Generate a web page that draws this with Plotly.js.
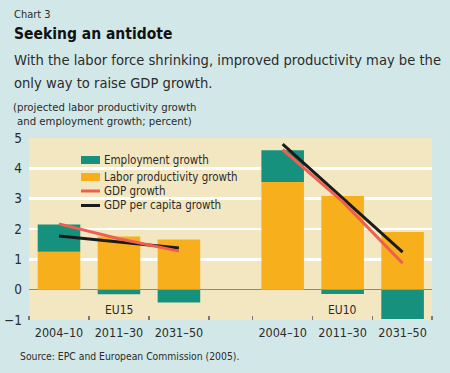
<!DOCTYPE html>
<html>
<head>
<meta charset="utf-8">
<script src="https://cdn.plot.ly/plotly-3.0.1.min.js"></script>
<style>
html,body{margin:0;padding:0;background:#d2e8e8;}
#chart{width:450px;height:373px;}
</style>
</head>
<body>
<div id="chart"></div>
<script>
// ---- data ----
var periods = ['2004–10', '2011–30', '2031–50'];
var groups = ['EU15', 'EU10'];
var eu15Labor = [1.25, 1.75, 1.65];
var eu15Employment = [0.9, -0.15, -0.42];
var eu15Gdp = [2.17, 1.68, 1.27];
var eu15GdpPerCapita = [1.77, 1.57, 1.37];
var eu10Labor = [3.55, 3.09, 1.9];
var eu10Employment = [1.05, -0.14, -0.97];
var eu10Gdp = [4.62, 2.9, 0.87];
var eu10GdpPerCapita = [4.8, 3.02, 1.24];
var yTicks = [-1, 0, 1, 2, 3, 4, 5];
var seriesNames = ['Employment growth', 'Labor productivity growth', 'GDP growth', 'GDP per capita growth'];

// ---- styles / positions ----
var COLORS = {emp: '#16917d', labor: '#f7b01c', gdp: '#ef5f4f', gdppc: '#1b1b1b'};
var eu15X = [0, 1, 2];
var eu10X = [3.73, 4.73, 5.73];
var barX = eu15X.concat(eu10X);
var lineX = eu15X.concat([null], eu10X);
var boundaries = [-0.5, 0.5, 1.5, 2.5, 3.23, 4.23, 5.23, 6.22];

var FONT = '"DejaVu Sans Condensed", "Liberation Sans Narrow", Arial, sans-serif';
var TXT = '#2b2b2b';
var L = 29, R = 432, T = 138, B = 320;
function px(x) { return (x - L) / (R - L); }
function py(y) { return (B - y) / (B - T); }

var traces = [
  {type: 'bar', name: seriesNames[1], x: barX,
   y: eu15Labor.concat(eu10Labor), width: 0.71,
   marker: {color: COLORS.labor}, showlegend: false},
  {type: 'bar', name: seriesNames[0], x: barX,
   y: eu15Employment.concat(eu10Employment), width: 0.71,
   marker: {color: COLORS.emp}, showlegend: false},
  {type: 'scatter', mode: 'lines', name: seriesNames[3], x: lineX,
   y: eu15GdpPerCapita.concat([null], eu10GdpPerCapita),
   line: {color: COLORS.gdppc, width: 3}, connectgaps: false, showlegend: false},
  {type: 'scatter', mode: 'lines', name: seriesNames[2], x: lineX,
   y: eu15Gdp.concat([null], eu10Gdp),
   line: {color: COLORS.gdp, width: 3}, connectgaps: false, showlegend: false}
];

var annotations = [
  {text: 'Chart 3', x: 12, y: 15, size: 11},
  {text: '<b>Seeking an antidote</b>', x: 12, y: 34, size: 15.5, color: '#111'},
  {text: 'With the labor force shrinking, improved productivity may be the', x: 12, y: 59, size: 14.6},
  {text: 'only way to raise GDP growth.', x: 12, y: 82, size: 14.6},
  {text: '(projected labor productivity growth', x: 11, y: 108, size: 11.3},
  {text: 'and employment growth; percent)', x: 15, y: 121, size: 11.3},
  {text: 'Source: EPC and European Commission (2005).', x: 18, y: 356, size: 10.3}
].map(function (a) {
  return {
    text: a.text, showarrow: false, xref: 'paper', yref: 'paper',
    x: px(a.x), y: py(a.y), xanchor: 'left', yanchor: 'middle',
    font: {family: FONT, size: a.size || 12, color: a.color || TXT}
  };
});

// group labels inside plot
groups.forEach(function (g, i) {
  annotations.push({
    text: g, showarrow: false, xref: 'x', yref: 'y',
    x: (i === 0 ? eu15X : eu10X)[1], y: -0.67, xanchor: 'center', yanchor: 'middle',
    font: {family: FONT, size: 12, color: TXT}
  });
});

// legend (drawn with shapes + annotations to match the compact original)
var legendRows = [
  {name: seriesNames[0], kind: 'rect', color: COLORS.emp, y: 160},
  {name: seriesNames[1], kind: 'rect', color: COLORS.labor, y: 177},
  {name: seriesNames[2], kind: 'line', color: COLORS.gdp, y: 191},
  {name: seriesNames[3], kind: 'line', color: COLORS.gdppc, y: 205.5}
];
var shapes = [];
legendRows.forEach(function (r) {
  if (r.kind === 'rect') {
    shapes.push({type: 'rect', xref: 'paper', yref: 'paper',
      x0: px(81), x1: px(100), y0: py(r.y - 4), y1: py(r.y + 4),
      fillcolor: r.color, line: {width: 0}});
  } else {
    shapes.push({type: 'line', xref: 'paper', yref: 'paper',
      x0: px(81), x1: px(100), y0: py(r.y), y1: py(r.y),
      line: {color: r.color, width: 3}});
  }
  annotations.push({text: r.name, showarrow: false, xref: 'paper', yref: 'paper',
    x: px(102), y: py(r.y - 0.5), xanchor: 'left', yanchor: 'middle',
    font: {family: FONT, size: 11.5, color: TXT}});
});

var layout = {
  width: 450, height: 373,
  margin: {l: L, r: 450 - R, t: T, b: 373 - B, pad: 0},
  paper_bgcolor: '#d2e8e8',
  plot_bgcolor: '#f3e7c2',
  barmode: 'relative',
  showlegend: false,
  font: {family: FONT, color: TXT},
  xaxis: {
    range: [-0.5, 6.22], tickvals: barX,
    ticktext: periods.concat(periods), ticks: '',
    showgrid: false, zeroline: false, showline: false,
    tickfont: {family: FONT, size: 12.5, color: TXT},
    ticklabelstandoff: 3,
    minor: {tickvals: boundaries, ticks: 'inside', ticklen: 4, tickwidth: 1.5, tickcolor: '#7a7a7a', showgrid: false},
    fixedrange: true
  },
  yaxis: {
    range: [-1, 5], tickvals: yTicks, ticks: '',
    showgrid: true, gridcolor: '#ffffff', gridwidth: 2.5,
    zeroline: true, zerolinecolor: '#8a8a80', zerolinewidth: 1.5,
    showline: false, ticklabelstandoff: 6,
    tickfont: {family: FONT, size: 13.5, color: TXT},
    fixedrange: true
  },
  shapes: shapes,
  annotations: annotations
};

Plotly.newPlot('chart', traces, layout, {displayModeBar: false, staticPlot: true});
</script>
</body>
</html>
